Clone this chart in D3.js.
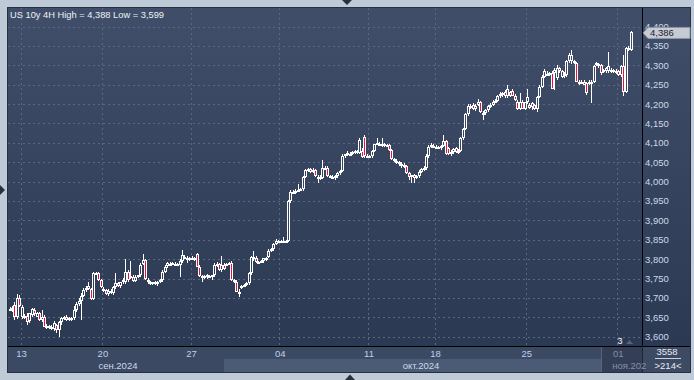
<!DOCTYPE html>
<html>
<head>
<meta charset="utf-8">
<script src="https://cdn.jsdelivr.net/npm/d3@7"></script>
<style>
html, body { margin: 0; padding: 0; background: #bfcad9; }
svg { display: block; font-family: "Liberation Sans", Arial, sans-serif; }
</style>
</head>
<body>
<svg id="chart" width="694" height="380"></svg>
<script>
const title = "US 10y 4H High = 4,388 Low = 3,599";

// 4H candles: [open, high, low, close]
const bars = [
  [3672,3677,3666,3670],[3670,3680,3664,3674],[3681,3690,3643,3652],[3652,3710,3646,3700],[3700,3708,3676,3678],
  [3652,3682,3645,3677],[3650,3658,3646,3654],[3654,3660,3630,3638],[3640,3662,3636,3660],[3656,3674,3652,3672],
  [3669,3674,3654,3658],[3652,3664,3650,3660],[3660,3664,3640,3643],[3643,3668,3638,3650],[3652,3656,3624,3626],
  [3624,3632,3620,3628],[3624,3630,3620,3627],[3622,3630,3618,3626],[3620,3640,3615,3636],[3630,3634,3610,3617],
  [3617,3640,3599,3638],[3638,3650,3630,3647],[3648,3654,3644,3652],[3652,3656,3640,3643],[3644,3650,3640,3648],
  [3646,3650,3641,3648],[3648,3678,3644,3668],[3668,3690,3664,3684],[3684,3700,3680,3692],[3692,3712,3643,3706],
  [3706,3725,3702,3720],[3720,3730,3716,3726],[3724,3740,3720,3730],[3722,3726,3695,3698],[3696,3768,3694,3764],
  [3764,3768,3758,3762],[3765,3768,3744,3746],[3746,3750,3725,3728],[3718,3728,3714,3722],[3720,3724,3708,3710],
  [3710,3722,3706,3718],[3718,3722,3710,3714],[3712,3732,3708,3728],[3728,3764,3724,3738],[3738,3742,3728,3730],
  [3730,3742,3726,3740],[3746,3752,3736,3740],[3740,3800,3736,3766],[3768,3772,3742,3746],[3752,3795,3748,3756],
  [3755,3760,3742,3744],[3744,3758,3740,3755],[3756,3760,3752,3758],[3758,3790,3754,3785],[3788,3813,3784,3798],
  [3798,3800,3746,3748],[3740,3752,3736,3746],[3740,3744,3734,3735],[3737,3742,3734,3740],[3738,3744,3734,3741],
  [3740,3744,3730,3742],[3742,3748,3738,3745],[3745,3772,3742,3768],[3768,3785,3764,3780],[3782,3792,3778,3789],
  [3788,3792,3784,3786],[3786,3792,3784,3789],[3787,3792,3784,3788],[3788,3791,3782,3784],[3784,3800,3755,3796],
  [3796,3824,3790,3810],[3804,3810,3800,3806],[3804,3808,3790,3800],[3800,3806,3796,3804],[3802,3808,3798,3804],
  [3800,3806,3796,3803],[3813,3816,3780,3781],[3781,3784,3755,3756],[3752,3760,3742,3756],[3752,3758,3748,3756],
  [3756,3762,3750,3758],[3754,3760,3752,3757],[3756,3760,3745,3758],[3758,3790,3755,3785],[3782,3792,3780,3788],
  [3788,3790,3770,3772],[3772,3807,3768,3786],[3786,3790,3772,3775],[3786,3791,3782,3788],[3787,3792,3784,3790],
  [3790,3794,3744,3746],[3742,3750,3738,3746],[3742,3746,3715,3716],[3712,3722,3703,3716],[3728,3734,3724,3732],
  [3732,3736,3728,3734],[3734,3740,3730,3738],[3738,3766,3734,3764],[3764,3808,3760,3806],[3800,3820,3796,3806],
  [3804,3808,3790,3792],[3792,3796,3788,3791],[3793,3798,3790,3796],[3794,3804,3790,3802],[3800,3806,3796,3804],
  [3806,3826,3802,3822],[3822,3830,3818,3826],[3826,3842,3822,3840],[3840,3852,3836,3846],[3846,3850,3842,3847],
  [3846,3849,3842,3845],[3845,3858,3842,3847],[3847,3850,3842,3846],[3846,3952,3844,3949],[3949,3978,3944,3974],
  [3974,3978,3968,3972],[3972,3980,3968,3976],[3976,3995,3972,3978],[3978,3984,3975,3982],[3980,4015,3976,4012],
  [4012,4032,4008,4030],[4030,4034,4026,4032],[4032,4036,4022,4024],[4026,4034,4022,4030],[4030,4032,4012,4014],
  [4012,4018,3996,4010],[4012,4016,4004,4006],[4010,4056,4006,4034],[4034,4040,4030,4036],[4036,4040,4012,4014],
  [4014,4018,4010,4012],[4012,4016,4008,4013],[4012,4016,4004,4014],[4014,4026,4010,4022],[4022,4030,4018,4028],
  [4028,4070,4024,4066],[4066,4072,4062,4070],[4070,4078,4066,4074],[4072,4076,4068,4072],[4072,4078,4068,4076],
  [4076,4082,4072,4080],[4080,4082,4072,4074],[4074,4112,4070,4108],[4080,4086,4060,4064],[4116,4120,4062,4066],
  [4066,4070,4060,4064],[4064,4068,4060,4066],[4066,4082,4062,4080],[4080,4098,4076,4096],[4096,4112,4094,4100],
  [4098,4102,4092,4096],[4094,4112,4088,4098],[4098,4100,4090,4092],[4092,4096,4088,4094],[4094,4096,4080,4082],
  [4082,4084,4056,4058],[4058,4062,4050,4054],[4054,4058,4046,4050],[4050,4054,4040,4046],[4046,4050,4034,4044],
  [4044,4048,4036,4040],[4040,4042,4020,4022],[4022,4026,4004,4012],[4012,4018,3996,4016],[4016,4020,3996,4010],
  [4010,4016,4006,4014],[4014,4030,4010,4026],[4026,4036,4022,4032],[4032,4040,4028,4036],[4036,4070,4030,4066],
  [4066,4094,4062,4090],[4090,4100,4086,4094],[4092,4096,4086,4090],[4090,4094,4084,4088],[4090,4092,4084,4086],
  [4086,4094,4082,4092],[4092,4120,4088,4104],[4104,4108,4068,4072],[4086,4088,4068,4070],[4070,4082,4066,4076],
  [4076,4086,4072,4084],[4086,4090,4074,4076],[4076,4084,4072,4080],[4080,4116,4076,4112],[4112,4138,4108,4136],
  [4136,4176,4132,4174],[4174,4200,4168,4196],[4196,4200,4186,4194],[4198,4202,4184,4186],[4186,4200,4182,4196],
  [4198,4212,4194,4206],[4206,4208,4178,4180],[4178,4182,4160,4176],[4176,4186,4172,4184],[4184,4198,4180,4196],
  [4196,4202,4190,4198],[4198,4210,4194,4206],[4206,4212,4202,4208],[4208,4224,4204,4220],[4220,4232,4216,4226],
  [4224,4230,4218,4228],[4232,4236,4216,4220],[4220,4250,4216,4238],[4230,4234,4218,4222],[4234,4238,4220,4222],
  [4222,4226,4208,4210],[4206,4210,4184,4188],[4188,4228,4184,4204],[4206,4210,4186,4188],[4188,4206,4184,4204],
  [4204,4240,4200,4218],[4198,4202,4186,4189],[4192,4204,4184,4202],[4198,4200,4184,4187],[4187,4222,4180,4219],
  [4219,4248,4215,4245],[4245,4274,4242,4271],[4271,4290,4268,4284],[4278,4284,4272,4276],[4276,4282,4272,4279],
  [4279,4284,4238,4240],[4279,4292,4236,4288],[4267,4300,4262,4292],[4292,4296,4280,4284],[4271,4288,4266,4284],
  [4275,4282,4268,4278],[4275,4314,4270,4310],[4310,4331,4306,4327],[4310,4340,4304,4326],[4310,4314,4302,4305],
  [4305,4308,4256,4258],[4254,4262,4250,4258],[4258,4262,4252,4254],[4258,4262,4248,4250],[4254,4258,4223,4228],
  [4254,4262,4250,4258],[4254,4262,4202,4258],[4258,4300,4254,4297],[4301,4308,4298,4305],[4297,4306,4292,4302],
  [4301,4304,4276,4279],[4284,4290,4280,4288],[4284,4296,4280,4292],[4284,4335,4280,4297],[4284,4292,4280,4288],
  [4284,4290,4280,4287],[4282,4290,4278,4286],[4284,4288,4272,4275],[4275,4300,4270,4297],[4297,4327,4222,4232],
  [4232,4346,4228,4344],[4344,4350,4336,4340],[4340,4388,4336,4386]
];

const lastPrice = 4386;
const yTickValues = [3600,3650,3700,3750,3800,3850,3900,3950,4000,4050,4100,4150,4200,4250,4300,4350,4400];
const dayTickIdx = [5, 38, 74, 110, 146, 173, 210, 247];
const dayTickLabels = ["13", "20", "27", "04", "11", "18", "25", "01"];
const monthLabels = ["сен.2024", "окт.2024", "ноя.202"];
const monthStartIdx = [0, 87, 240];
const monthLabelIdx = [44, 167, 247];
const barCountLabel = "3558";
const visibleLabel = ">214<";

const plot = { left: 8, top: 8, right: 642, bottom: 346 };
const red = "#e5123c";

const svg = d3.select("#chart");
const defs = svg.append("defs");

const grad = defs.append("linearGradient")
  .attr("id", "bg")
  .attr("gradientUnits", "userSpaceOnUse")
  .attr("x1", 0).attr("y1", plot.top).attr("x2", 0).attr("y2", plot.bottom);
grad.append("stop").attr("offset", 0).attr("stop-color", "#404e69");
grad.append("stop").attr("offset", 1).attr("stop-color", "#2c3953");

defs.append("clipPath").attr("id", "clip")
  .append("rect")
  .attr("x", plot.left).attr("y", plot.top)
  .attr("width", plot.right - plot.left).attr("height", plot.bottom - plot.top);

const x = d3.scaleLinear().domain([0, bars.length - 1]).range([9.5, 630.5]);
const y = d3.scaleLinear().domain([3600, 4400]).range([336.7, 26.5]);
const step = x(1) - x(0);

// panel backgrounds
svg.append("rect").attr("x", 7).attr("y", 7).attr("width", 684).attr("height", 366).attr("fill", "#27303f");
svg.append("rect").attr("x", plot.left).attr("y", plot.top)
  .attr("width", 690 - plot.left).attr("height", plot.bottom - plot.top).attr("fill", "url(#bg)");

// x axis rows
svg.append("rect").attr("x", plot.left).attr("y", plot.bottom + 1)
  .attr("width", plot.right - plot.left).attr("height", 12).attr("fill", "#3c4963");
const monthEnds = monthStartIdx.slice(1).concat([bars.length + 10]);
svg.append("g").selectAll("rect")
  .data(monthLabels)
  .join("rect")
  .attr("x", (d, i) => i === 0 ? plot.left : Math.round(x(monthStartIdx[i])))
  .attr("y", 359)
  .attr("width", (d, i) => Math.min(plot.right, Math.round(x(monthEnds[i]))) - (i === 0 ? plot.left : Math.round(x(monthStartIdx[i]))))
  .attr("height", 13)
  .attr("fill", (d, i) => i === 1 ? "#4b5a75" : "#3c4963");

// last-month box (dimmed)
const novX = Math.round(x(monthStartIdx[2]));
svg.append("rect").attr("x", novX).attr("y", plot.bottom + 1)
  .attr("width", plot.right - novX).attr("height", 25).attr("fill", "#343f57");
svg.append("line").attr("x1", novX + 0.5).attr("x2", novX + 0.5)
  .attr("y1", plot.bottom + 1).attr("y2", 372).attr("stroke", "#56637b");

// bottom-right info box
svg.append("rect").attr("x", plot.right + 1).attr("y", plot.bottom + 1)
  .attr("width", 690 - plot.right - 1).attr("height", 25).attr("fill", "#3d4a64");

// grid
const grid = svg.append("g").attr("stroke", "#5a6782").attr("stroke-dasharray", "2,3")
  .attr("shape-rendering", "crispEdges");
grid.selectAll("line.h")
  .data(yTickValues)
  .join("line")
  .attr("class", "h")
  .attr("x1", plot.left).attr("x2", plot.right)
  .attr("y1", d => Math.round(y(d)) + 0.5).attr("y2", d => Math.round(y(d)) + 0.5);
grid.selectAll("line.v")
  .data(dayTickIdx)
  .join("line")
  .attr("class", "v")
  .attr("y1", plot.top).attr("y2", plot.bottom)
  .attr("x1", d => Math.round(x(d) - step / 2) + 0.5).attr("x2", d => Math.round(x(d) - step / 2) + 0.5);

// candles: wicks, then white bodies, then body interiors on top
const bodyTop = d => Math.round(y(Math.max(d[0], d[3])));
const bodyBot = d => Math.round(y(Math.min(d[0], d[3])));
const candles = svg.append("g").attr("clip-path", "url(#clip)").attr("shape-rendering", "crispEdges");
candles.append("g").selectAll("rect")
  .data(bars)
  .join("rect")
  .attr("x", (d, i) => Math.round(x(i)))
  .attr("width", 1)
  .attr("y", d => Math.round(y(d[1])))
  .attr("height", d => Math.max(1, Math.round(y(d[2])) - Math.round(y(d[1]))))
  .attr("fill", "#ffffff");
candles.append("g").selectAll("rect")
  .data(bars)
  .join("rect")
  .attr("x", (d, i) => Math.round(x(i)) - 1)
  .attr("width", 3)
  .attr("y", bodyTop)
  .attr("height", d => Math.max(2, bodyBot(d) - bodyTop(d)))
  .attr("fill", "#ffffff");
candles.append("g").selectAll("rect")
  .data(bars.map((d, i) => ({ d, i })).filter(e => bodyBot(e.d) - bodyTop(e.d) >= 3))
  .join("rect")
  .attr("x", e => Math.round(x(e.i)))
  .attr("width", 1)
  .attr("y", e => bodyTop(e.d) + 1)
  .attr("height", e => bodyBot(e.d) - bodyTop(e.d) - 2)
  .attr("fill", e => e.d[3] < e.d[0] ? red : "url(#bg)");

// axis separators
svg.append("line").attr("x1", plot.right + 0.5).attr("x2", plot.right + 0.5)
  .attr("y1", plot.top).attr("y2", plot.bottom).attr("stroke", "#000");
svg.append("line").attr("x1", plot.left).attr("x2", 690)
  .attr("y1", plot.bottom + 0.5).attr("y2", plot.bottom + 0.5).attr("stroke", "#000");
svg.append("line").attr("x1", plot.right + 0.5).attr("x2", plot.right + 0.5)
  .attr("y1", plot.bottom).attr("y2", 372).attr("stroke", "#1e2636");

// y axis labels
const fmt = d3.format(",");
svg.append("g").selectAll("text")
  .data(yTickValues)
  .join("text")
  .attr("x", 645)
  .attr("y", d => y(d) + 3.5)
  .attr("font-size", 9.5)
  .attr("fill", "#cdd8ea")
  .text(d => fmt(d));

// last price tag
const ty = y(lastPrice) + 1;
svg.append("path")
  .attr("d", `M643,${ty} L648,${ty - 5.5} L690,${ty - 5.5} L690,${ty + 5.5} L648,${ty + 5.5} Z`)
  .attr("fill", "#c5cad3").attr("stroke", "#8d96a6");
svg.append("text").attr("x", 650).attr("y", ty + 3.5)
  .attr("font-size", 9.5).attr("fill", "#1b2230").text(fmt(lastPrice));

// day ticks
svg.append("g").selectAll("text")
  .data(dayTickLabels)
  .join("text")
  .attr("x", (d, i) => x(dayTickIdx[i]) - step / 2 + 1)
  .attr("y", 357)
  .attr("text-anchor", (d, i) => i === dayTickLabels.length - 1 ? "start" : "middle")
  .attr("dx", (d, i) => i === dayTickLabels.length - 1 ? -5 : 0)
  .attr("font-size", 9.5)
  .attr("fill", (d, i) => i === dayTickLabels.length - 1 ? "#8390a6" : "#bcd0ec")
  .text(d => d);

// month labels
svg.append("g").selectAll("text")
  .data(monthLabels)
  .join("text")
  .attr("x", (d, i) => x(monthLabelIdx[i]))
  .attr("y", 369)
  .attr("text-anchor", (d, i) => i === 2 ? "start" : "middle")
  .attr("dx", (d, i) => i === 2 ? -6 : 0)
  .attr("font-size", 9.5)
  .attr("fill", (d, i) => i === 2 ? "#8390a6" : "#cbd8ec")
  .text(d => d);

// bottom-right counters
svg.append("text").attr("x", 667).attr("y", 355).attr("text-anchor", "middle")
  .attr("font-size", 9.5).attr("fill", "#e4eaf3").text(barCountLabel);
svg.append("line").attr("x1", 655).attr("x2", 681).attr("y1", 358.5).attr("y2", 358.5)
  .attr("stroke", "#c9d2e0");
svg.append("text").attr("x", 668).attr("y", 369).attr("text-anchor", "middle")
  .attr("font-size", 9.5).attr("fill", "#e4eaf3").text(visibleLabel);

// small marker near the last bar
svg.append("text").attr("x", 620).attr("y", 343.5).attr("text-anchor", "middle")
  .attr("font-size", 9).attr("fill", "#ffffff").text("3");
svg.append("path").attr("d", "M626,344 L629.5,340 L633,344 Z").attr("fill", "#56637c");

// title
svg.append("text").attr("x", 10).attr("y", 17.5)
  .attr("font-size", 9.3).attr("fill", "#eef2f8").text(title);

// frame scroll markers
svg.append("path").attr("d", "M342,0 L352,0 L347,5 Z").attr("fill", "#27303f");
svg.append("path").attr("d", "M0,185 L5,190 L0,195 Z").attr("fill", "#27303f");
svg.append("path").attr("d", "M345,380 L350,374.5 L355,380 Z").attr("fill", "#27303f");
</script>
</body>
</html>
